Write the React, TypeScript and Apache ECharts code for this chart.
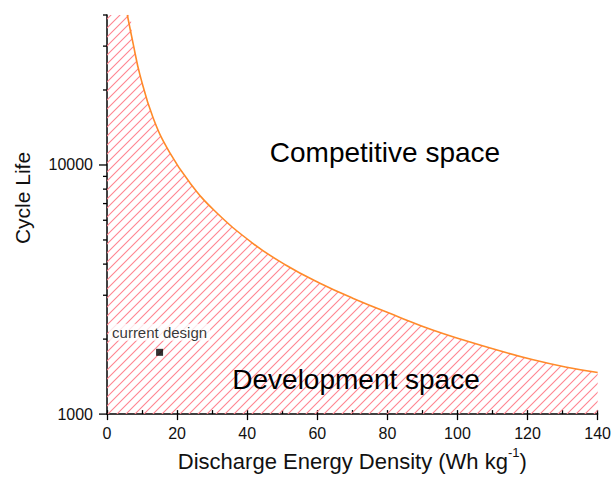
import React, { useEffect, useRef } from "react";
import * as echarts from "echarts";

// Boundary curve (Discharge energy density, cycle life)
const curveX = [5.8, 7.5, 9.4, 13.2, 17.9, 23.6, 30.7, 41.6, 51.1, 60.6, 70.1, 83.4, 92.9, 102.4, 111.8, 121.3, 130.8, 140];
const curveY = [40000, 30500, 23000, 15400, 11200, 8500, 6550, 4850, 3960, 3360, 2920, 2450, 2175, 1970, 1800, 1655, 1545, 1468];
// top-left corner of the hatched region
const areaStart = [0, 40000];

const currentDesign = [15, 1770];
const currentLabel = "current design";

const yMajorTicks = [1000, 10000];
const yMinorTicks = [2000, 3000, 4000, 5000, 6000, 7000, 8000, 9000, 20000, 30000, 40000];

const FONT = "'Liberation Sans', Arial, sans-serif";

function makeHatch() {
  const s = 9;
  const c = document.createElement("canvas");
  c.width = s;
  c.height = s;
  const ctx = c.getContext("2d")!;
  ctx.strokeStyle = "#ff8590";
  ctx.lineWidth = 1.1;
  ctx.beginPath();
  ctx.moveTo(0, s);
  ctx.lineTo(s, 0);
  ctx.moveTo(-1, 1);
  ctx.lineTo(1, -1);
  ctx.moveTo(s - 1, s + 1);
  ctx.lineTo(s + 1, s - 1);
  ctx.stroke();
  return c;
}

export default function App() {
  const ref = useRef<HTMLDivElement>(null);
  useEffect(() => {
    if (!ref.current) return;
    const chart = echarts.init(ref.current, null, { renderer: "svg" });
    const curve = curveX.map((x, i) => [x, curveY[i]]);
    const area = [areaStart, ...curve];
    const textGraphics: any[] = [
      {
        type: "text",
        x: 385,
        y: 152,
        z: 20,
        style: { text: "Competitive space", fontSize: 28, fontFamily: FONT, fill: "#000", align: "center", verticalAlign: "middle" },
      },
      {
        type: "text",
        x: 356,
        y: 379,
        z: 20,
        style: { text: "Development space", fontSize: 28, fontFamily: FONT, fill: "#000", align: "center", verticalAlign: "middle" },
      },
      {
        type: "text",
        x: 22,
        y: 198,
        rotation: Math.PI / 2,
        style: { text: "Cycle Life", fontSize: 21, fontFamily: FONT, fill: "#111", align: "center", verticalAlign: "middle" },
      },
    ];
    chart.setOption({
      animation: false,
      grid: { left: 107, right: 15, top: 15, bottom: 62, containLabel: false },
      xAxis: [
        {
          type: "value",
          min: 0,
          max: 140,
          interval: 20,
          name: "{a|Discharge Energy Density (Wh kg}{s|-1}{a|)}",
          nameLocation: "middle",
          nameGap: 31,
          nameTextStyle: {
            rich: {
              a: { fontSize: 22, fontFamily: FONT, color: "#111", lineHeight: 26, verticalAlign: "bottom" },
              s: { fontSize: 13, fontFamily: FONT, color: "#111", lineHeight: 26, verticalAlign: "top", padding: [0, 0, 10, 0] },
            },
          },
          axisLine: { show: true, onZero: false, lineStyle: { color: "#000", width: 1.5 } },
          axisTick: { show: true, inside: false, length: 6, lineStyle: { color: "#000", width: 1.3 } },
          axisLabel: { fontSize: 16, fontFamily: FONT, color: "#111", margin: 11 },
          splitLine: { show: false },
        },
        {
          type: "value",
          min: 0,
          max: 140,
          interval: 10,
          position: "bottom",
          axisLine: { show: false, onZero: false },
          axisTick: { show: true, inside: true, length: 4, lineStyle: { color: "#000", width: 1.3 } },
          axisLabel: { show: false },
          splitLine: { show: false },
        },
      ],
      yAxis: {
        type: "log",
        logBase: 10,
        min: 1000,
        max: 40000,
        axisLine: { show: true, onZero: false, lineStyle: { color: "#000", width: 1.5 } },
        axisTick: { show: false },
        axisLabel: {
          fontSize: 16,
          fontFamily: FONT,
          color: "#111",
          margin: 14,
          formatter: (v: number) => {
            const l = Math.log10(v);
            return Math.abs(l - Math.round(l)) < 1e-6 ? String(Math.round(v)) : "";
          },
        },
        splitLine: { show: false },
      },
      graphic: textGraphics,
      series: [
        {
          type: "line",
          data: area,
          smooth: 0.45,
          showSymbol: false,
          silent: true,
          lineStyle: { width: 0, opacity: 0 },
          areaStyle: { origin: "start", color: { image: makeHatch(), repeat: "repeat" }, opacity: 1 },
          z: 1,
        },
        {
          type: "line",
          data: curve,
          smooth: 0.45,
          showSymbol: false,
          silent: true,
          lineStyle: { color: "#ff8a2a", width: 1.6 },
          z: 3,
        },
        {
          type: "scatter",
          data: [currentDesign],
          symbol: "rect",
          symbolSize: 7,
          itemStyle: { color: "#000" },
          z: 5,
          label: {
            show: true,
            formatter: currentLabel,
            position: "top",
            distance: 8,
            fontSize: 15,
            fontFamily: FONT,
            color: "#000",
            backgroundColor: "#fff",
            padding: [1, 3],
          },
        },
      ],
    });
    // y-axis ticks placed through the axis scale
    const axisX = chart.convertToPixel({ xAxisIndex: 0 }, 0) as number;
    const tickLine = (v: number, len: number) => {
      const py = chart.convertToPixel({ yAxisIndex: 0 }, v) as number;
      return {
        type: "line",
        z: 30,
        silent: true,
        shape: { x1: axisX - len, y1: py, x2: axisX, y2: py },
        style: { stroke: "#000", lineWidth: 1.3 },
      };
    };
    chart.setOption({
      graphic: [
        ...textGraphics,
        ...yMajorTicks.map((v) => tickLine(v, 8)),
        ...yMinorTicks.map((v) => tickLine(v, 4)),
      ],
    });
    return () => chart.dispose();
  }, []);
  return (
    <div
      ref={ref}
      style={{ position: "fixed", left: 0, top: 0, width: 614, height: 477, background: "#fff" }}
    />
  );
}
